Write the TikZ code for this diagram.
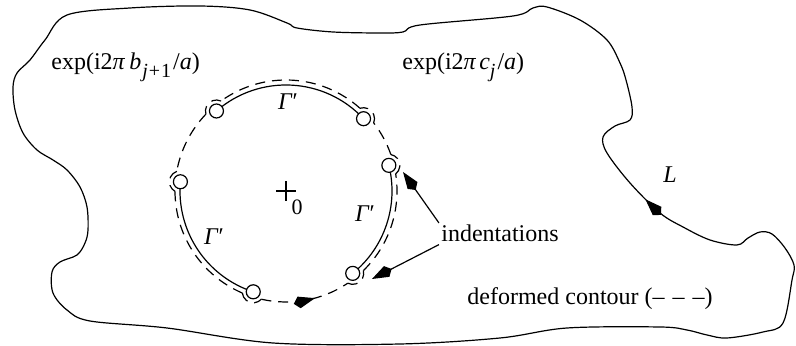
\documentclass[tikz,border=0pt]{standalone}
\usepackage{fontspec}
\setmainfont{Liberation Serif}
\usetikzlibrary{arrows.meta,positioning,calc,decorations.markings}
\newcommand{\lowidx}[1]{\raisebox{-0.3em}{\fontsize{10}{10}\selectfont #1}}
\tikzset{
	lbl/.style={font=\fontsize{12}{14}\selectfont, inner sep=1pt},
	sarc/.style={line width=0.6pt},
	dcont/.style={line width=0.6pt, dash pattern=on 5pt off 3.5pt},
	pole/.style={line width=0.6pt, fill=white},
	kite/.style={-{Kite[length=11pt, width=6pt]}, line width=0.6pt},
	midkite/.style={postaction={decorate, decoration={markings,
		mark=at position #1 with {\arrow{Kite[length=11pt, width=6pt]}}}}}
}

\begin{document}
\begin{tikzpicture}[x=0.5pt, y=0.5pt]
	\useasboundingbox (0,0) rectangle (796,346);
	\coordinate (C) at (286,155);
	% outer contour L
	\draw[sarc, midkite=10pt] plot[smooth cycle, tension=0.55] coordinates {
		(683,119) (660,133) (630,163) (607,193) (603,209) (615,220) (630,226) (632,239)
		(626,266) (620,283) (607,306) (580,326) (547,339) (533,338) (513,330)
		(420,321) (403,314) (380,313) (333,314) (297,318) (287,323) (250,336)
		(200,340) (130,338) (67,331) (45,306) (30,286) (17,273) (13,259)
		(15,236) (23,213) (37,196) (53,186) (67,176) (80,159) (87,139) (88,116)
		(85,103) (77,91) (60,84) (52,74) (53,53) (67,36) (90,25) (167,18)
		(273,3) (400,2) (500,8) (567,18) (660,19) (687,16) (707,11) (727,8)
		(763,14) (783,23) (792,66) (794,81) (785,98) (772,112) (760,114)
		(748,108) (737,101) (710,106)};
	% solid arcs
	\foreach \a/\b in {43/131, 175/252, 309/374}
		\draw[sarc] ([shift={(\a:106)}]C) arc[start angle=\a, end angle=\b, radius=106];
	% deformed contour
	\foreach \a/\b in {14/43, 43/131, 131/175, 175/252, 309/374}
		\draw[dcont] ([shift={(\a+5.2:111)}]C) arc[start angle=\a+5.2, end angle=\b-5.2, radius=111];
	\draw[dcont, midkite=0.6] ([shift={(257.2:111)}]C) arc[start angle=257.2, end angle=303.8, radius=111];
	\foreach \t in {14,43,131,175,252,309}
		\draw[dcont] ([shift={(\t:106)}]C) ++(\t-66:11) arc[start angle=\t-66, end angle=\t+66, radius=11];
	% poles
	\foreach \t [count=\i] in {14,43,131,175,252,309}{
		\coordinate (p\i) at ([shift={(\t:106)}]C);
		\draw[pole] (p\i) circle[radius=7];
	}
	% origin
	\draw[sarc] (C) ++(-10,0) -- ++(20,0) (C) ++(0,-10) -- ++(0,20);
	\node[lbl, font=\fontsize{11}{13}\selectfont, anchor=base] (zero) at (297,131) {0};
	% labels
	\node[lbl, anchor=base west] (bexp) at (49,276) {exp(i2\textit{π}\kern2pt\textit{b}\lowidx{\kern0.5pt\textit{j}\kern0.5pt+\kern0.5pt1}\kern1pt/\textit{a})};
	\node[lbl, anchor=base west] (cexp) at (400,276) {exp(i2\textit{π}\kern1.5pt\textit{c}\lowidx{\textit{j}}\kern1pt/\textit{a})};
	\node[lbl, anchor=base] (gtop) at (288,236) {\textit{Γ}′};
	\node[lbl, anchor=base] (gleft) at (214,101) {\textit{Γ}′};
	\node[lbl, anchor=base] (gright) at (365,124) {\textit{Γ}′};
	\node[lbl, anchor=base] (lab) at (670,163) {\textit{L}};
	\node[lbl, anchor=base] (ind) at (500,104) {indentations};
	\node[lbl, anchor=base] (dc) at (590,41) {deformed contour (–\,\,–\,\,–)};
	\coordinate (tipA) at (403,174);
	\coordinate (tipB) at (372,67);
	\draw[kite] (ind.north west) -- (tipA);
	\draw[kite] (ind.south west) -- (tipB);
\end{tikzpicture}
\end{document}
